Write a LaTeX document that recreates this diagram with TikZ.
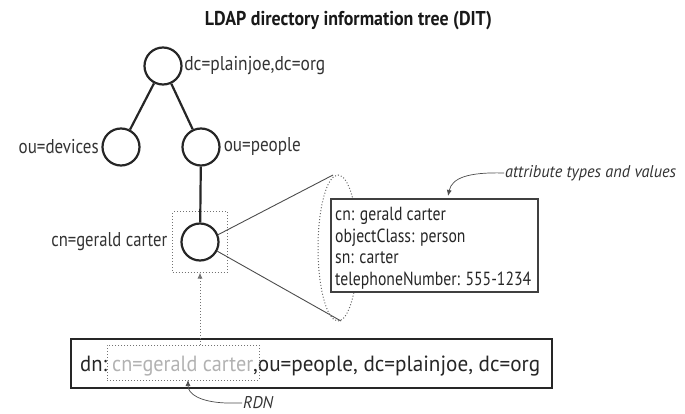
\documentclass[tikz,border=0pt]{standalone}
\usepackage{fontspec}
\usepackage{graphicx}
\setmainfont{PT Sans}
\usetikzlibrary{arrows.meta}
% set a text at a given width, keeping its natural height
\newcommand{\fw}[2]{\resizebox{#1}{\height}{#2}}
\begin{document}
\begin{tikzpicture}[x=1pt,y=-1pt,
  treenode/.style={circle,draw=black!85,line width=2.2pt,minimum size=37pt,inner sep=0pt},
  treeedge/.style={draw=black!85,line width=2.2pt},
  lbl/.style={font=\fontsize{20}{22}\selectfont,text=black!80,inner sep=1.5pt},
  dotbox/.style={draw=black!55,dotted,line width=1pt},
  thin/.style={draw=black!70,line width=0.9pt},
  note/.style={font=\fontsize{17}{19}\selectfont\itshape,text=black!80,inner sep=1pt},
  dntext/.style={font=\fontsize{22}{24}\selectfont,anchor=base west,inner sep=0pt}]
\useasboundingbox (0,0) rectangle (685,414);

% title
\node[font=\fontsize{20}{22}\selectfont\bfseries,text=black!90,inner sep=0pt] (title) at (348.5,21)
  {\fw{287pt}{LDAP directory information tree (DIT)}};

% the tree
\node[treenode] (root) at (163,66) {};
\node[treenode] (dev) at (121,147) {};
\node[treenode] (ppl) at (201,147) {};
\node[treenode] (ger) at (200,242) {};
\draw[treeedge] (root) -- (dev);
\draw[treeedge] (root) -- (ppl);
\draw[treeedge] (ppl) -- (ger);

\node[lbl,anchor=west] (rootlbl) at (root.east) {\fw{141pt}{dc=plainjoe,dc=org}};
\node[lbl,anchor=east,inner xsep=2.5pt] (devlbl) at (dev.west) {\fw{80pt}{ou=devices}};
\node[lbl,anchor=west,inner xsep=3pt] (ppllbl) at (ppl.east) {\fw{77pt}{ou=people}};
\node[lbl,anchor=east] (gerlbl) at (169,242) {\fw{116pt}{cn=gerald carter}};

% dotted frame around the entry
\node[dotbox,minimum width=55pt,minimum height=60pt] (gerbox) at (200,242) {};

% magnified entry: cone and dotted rim
\coordinate (rimtop) at (333,175);
\coordinate (rimbot) at (341,321);
\draw[thin] (ger.22) -- (rimtop);
\draw[thin] (ger.-28) -- (rimbot);
\draw[draw=black!60,dotted,line width=1pt] (338,248) ellipse [x radius=20, y radius=73];

% attribute box
\node[draw=black!75,line width=1.6pt,fill=white,anchor=north west,
      minimum width=207pt,minimum height=93pt] (attrs) at (330,198) {};
\node[font=\fontsize{19}{21.5}\selectfont,text=black!85,anchor=base west,inner sep=0pt] (attrtext) at (335,285.5)
  {\fw{196pt}{\vbox{\baselineskip=21.5pt
     \hbox{cn: gerald carter}\hbox{objectClass: person}\hbox{sn: carter}\hbox{telephoneNumber: 555-1234}}}};

% annotation of the attribute box
\node[note,anchor=west] (attrnote) at (504,173) {\fw{171pt}{attribute types and values}};
\draw[thin,line width=0.7pt,-{Latex[length=6pt,width=5pt]}] (attrnote.west)
  .. controls (468,172) and (452,178) .. (448,196);

% distinguished name box
\node[draw=black!85,line width=2.6pt,minimum width=481pt,minimum height=49pt] (dn) at (311.5,363.5) {};
\node[dntext,text=black!85] (dnkey) at (80,371) {\fw{27pt}{dn:}};
\node[dntext,text=black!30] (rdntext) at (112,371) {\fw{141pt}{cn=gerald carter}};
\node[dntext,text=black!85] (dnrest) at (253,371) {\fw{287pt}{,ou=people, dc=plainjoe, dc=org}};
\node[dotbox,minimum width=152pt,minimum height=35pt] (rdn) at (183,362.5) {};

% RDN points up to the entry
\draw[dotbox,-{Latex[length=6pt,width=5pt]}] (ger |- rdn.north) -- (gerbox.south);

% RDN annotation
\node[note,anchor=west] (rdnnote) at (242,403) {\fw{30pt}{RDN}};
\coordinate (rdnbend) at (226,403);
\draw[thin,line width=0.7pt,-{Latex[length=6pt,width=5pt]}] (rdnnote.west) -- (rdnbend)
  .. controls (200,402) and (188,394) .. (188,380);
\end{tikzpicture}
\end{document}
